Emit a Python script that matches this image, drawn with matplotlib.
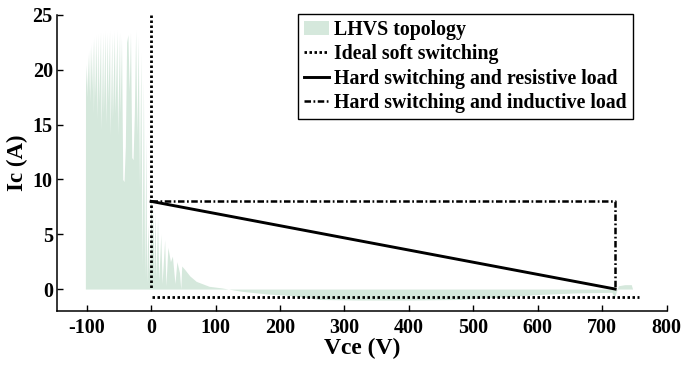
import numpy as np
import matplotlib
matplotlib.use("Agg")
import matplotlib.pyplot as plt

plt.rcParams['font.family'] = ['Liberation Serif', 'DejaVu Serif']
plt.rcParams['font.weight'] = 'bold'
plt.rcParams['axes.unicode_minus'] = False

# LHVS topology trace (Vce, Ic)
lhvs_v = [-102, -101.8, -100.5, -99.5, -98, -97, -95.5, -94.5, -93, -92, -90.5, -89.5,
          -88, -87, -85, -84, -82, -81, -78.5, -77.5, -75, -74, -71.5, -70.5, -68, -67,
          -64.5, -63.5, -61, -60, -57, -56, -53, -52, -49, -48, -46, -44, -42, -40,
          -38, -36, -34, -32, -30, -28, -26, -24, -22, -20, -18, -16, -14, -12, -10,
          -8, -7, -5, -3, -1.5, -0.5, 0.5, 1.5, 3, 4, 6, 7.5, 10, 12, 15, 17, 21, 23,
          26, 30, 33, 37, 40, 44, 46, 47.5, 52, 60, 70, 90, 110, 140, 180, 220, 260,
          320, 400, 480, 540, 600, 660, 715, 719, 722, 725, 735, 745, 747]
lhvs_i = [0, 18.5, 20.5, 17.5, 21.5, 18, 22, 17, 22.4, 18, 22.7, 16,
          23.0, 17.5, 23.2, 15.5, 23.3, 17, 23.4, 14.5, 23.4, 16, 23.5, 15, 23.4, 17,
          23.5, 14, 23.3, 15.5, 23.5, 16, 23.6, 14, 23.4, 16, 23.0, 10, 9.8, 13,
          22.5, 23.2, 18, 23.4, 12, 11.8, 16, 23.6, 14, 23.0, 9, 21.5, 2, 19, 1,
          14, 0.5, 6, 1.5, 3, 8, 8, 3, 7.5, 1, 7, 1, 6.5, 0.8, 5, 0.5, 4.5, 0.3,
          3.8, 2.5, 3, 0.5, 2.5, 1.5, 0, 2.1, 1.8, 1.2, 0.7, 0.25, 0.1, -0.2, -0.45, -0.6, -0.95,
          -1.0, -1.0, -0.95, -0.75, -0.5, -0.35, -0.3, -0.8, -0.2, 0.3, 0.4, 0.4, 0]

# ideal soft switching (vertical at 0 V, then flat just under 0 A)
soft_v = [0, 0, np.nan, 2, 757]
soft_i = [25, 0, np.nan, -0.75, -0.75]

# hard switching, resistive load
res_v = [0, 720]
res_i = [8, 0]

# hard switching, inductive load
ind_v = [0, 720, 720]
ind_i = [8, 8, 0]

fig = plt.figure(figsize=(6.82, 3.65), dpi=100)
ax = fig.add_axes([0.0836, 0.148, 0.894, 0.811])

ax.fill_between(lhvs_v, lhvs_i, 0, color='#d5e8dc', lw=0, label='LHVS topology')
ax.plot(soft_v, soft_i, color='black', lw=2, linestyle=(0, (0.9, 0.9)), label='Ideal soft switching')
ax.plot(res_v, res_i, color='black', lw=2.1, label='Hard switching and resistive load')
ax.plot(ind_v, ind_i, color='black', lw=1.8, linestyle=(0, (2.6, 1, 0.7, 1)),
        label='Hard switching and inductive load')

ax.set_xlim(-146, 800)
ax.set_ylim(-2, 25)
ax.set_xticks(range(-100, 801, 100))
ax.set_yticks(range(0, 26, 5))
ax.spines['top'].set_visible(False)
ax.spines['right'].set_visible(False)
for s in ['left', 'bottom']:
    ax.spines[s].set_linewidth(1.1)
ax.tick_params(direction='in', length=4, width=1, labelsize=14.5)
ax.tick_params(axis='y', pad=3)
ax.tick_params(axis='x', pad=5)

ax.set_xlabel('Vce (V)', fontsize=17, fontweight='bold', labelpad=0)
ax.set_ylabel('Ic (A)', fontsize=16.5, fontweight='bold', labelpad=3)

leg = ax.legend(loc='upper right', bbox_to_anchor=(0.944, 1.003), borderaxespad=0,
                fancybox=False, edgecolor='black', fontsize=14.3, handlelength=1.25,
                handletextpad=0.25, labelspacing=0.22, borderpad=0.3, framealpha=1)
leg.get_frame().set_linewidth(1)

fig.savefig('out.png', dpi=100)
